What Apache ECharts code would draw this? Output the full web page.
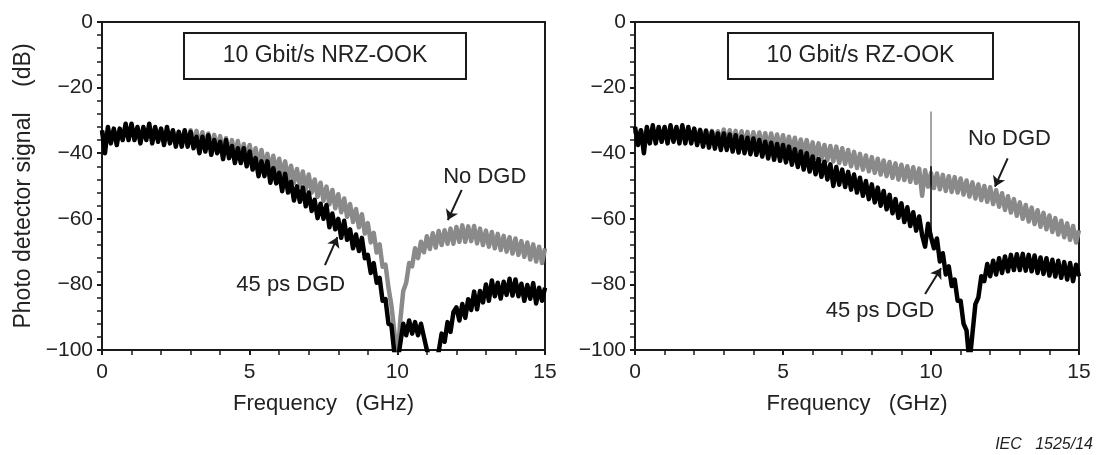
<!DOCTYPE html>
<html><head><meta charset="utf-8">
<script src="https://cdn.jsdelivr.net/npm/echarts@6/dist/echarts.min.js"></script>
<style>html,body{margin:0;padding:0;background:#fff}#c{width:1096px;height:455px}</style>
</head><body><div id="c"></div>
<script>
// ---- data (dB), one sample every freqStep GHz from 0 to 15 GHz ----
const freqStep = 0.1;
const xTicks = [0, 5, 10, 15];
const yTicks = [0, -20, -40, -60, -80, -100];
const panelTitles = ['10 Gbit/s NRZ-OOK', '10 Gbit/s RZ-OOK'];
const seriesNames = ['No DGD', '45 ps DGD'];

const nrzNoDGD = [
-33.5,-36,-33.5,-36,-33,-35.5,-33,-35.5,-33,-35.5,
-32.5,-35.5,-33,-35.5,-32.5,-35,-33,-35.5,-32.5,-35.5,
-32.8,-35.8,-33,-36,-33.2,-36,-33.5,-36.3,-33.4,-36.5,
-33,-37.2,-33.2,-37.8,-33.6,-38,-34,-38.6,-34.4,-38.8,
-34.8,-39.5,-35.4,-40.4,-36,-40.7,-36.3,-41.3,-37.2,-42,
-37.5,-42.6,-38.5,-43.8,-39,-44.5,-40.2,-45,-40.8,-46,
-41.7,-47,-42.5,-48,-43.8,-49,-44.8,-49.8,-45.6,-51,
-46.5,-52,-48,-53.3,-49,-54.5,-50.2,-55.6,-51.2,-56.8,
-52.5,-58,-53.8,-59.4,-55.5,-61,-57,-62.6,-58.6,-64.5,
-61.3,-67.2,-64.3,-70.3,-67.8,-74.6,-74,-81,-86.5,-94.5,
-104,-91,-82,-79.5,-73.5,-74.5,-69,-72,-67,-70.2,
-65.3,-69.2,-64.4,-68.8,-63.7,-68,-63.5,-67.6,-63,-67.6,
-62.5,-67,-62,-67,-62.3,-66.8,-62.2,-67.5,-63,-68,
-63.6,-68.5,-64,-69,-64.6,-69.5,-65.2,-70,-65.6,-70.6,
-66,-71,-66.8,-71.6,-67.2,-72.4,-67.8,-73,-68.5,-73.5,
-69];
const nrz45 = [
-33,-40,-32,-37,-32.5,-37.5,-32.5,-36,-31,-36,
-31,-36,-32,-37,-32,-36,-31,-37,-32,-36.5,
-32.5,-37.5,-32,-37,-33,-38,-33.5,-38,-33,-38,
-33.5,-38.5,-35,-40,-35,-39.5,-34.5,-40.5,-36,-40,
-36.5,-41.8,-36,-41.5,-37.8,-43,-38.5,-43,-38.5,-44,
-39.5,-45,-41.5,-47,-42.5,-47,-42.5,-49,-44.6,-49.2,
-46,-51.6,-46.3,-52,-48.7,-54.4,-50.1,-54.8,-50.5,-56.2,
-52,-57.6,-54.2,-59.8,-55.4,-60,-55.8,-62.6,-58.4,-63.2,
-60,-65.8,-60.6,-66.4,-63.2,-69,-64.8,-69.8,-65.8,-72,
-71,-76.5,-73.5,-79.5,-78,-85,-84.5,-92,-92.5,-101,
-104,-98,-92,-95.5,-91,-95,-91.5,-95.5,-92,-96,
-100,-103,-104,-104,-100.5,-95,-97.5,-91.5,-94.5,-88.5,
-87,-91,-86,-90.2,-84.5,-87.8,-82.2,-87.6,-82,-85.5,
-80,-85,-78.8,-83.6,-79.5,-84.3,-79.2,-83.2,-78.3,-83.4,
-78.5,-83.6,-79.8,-85,-80.2,-84.4,-79.6,-85.8,-81,-85,
-81];
const rzNoDGD = [
-33,-36,-33,-36,-33,-35.5,-33,-35.5,-32.8,-35.5,
-32.5,-35.5,-32.5,-35.5,-32.5,-35.5,-32.5,-35.5,-32.5,-35.5,
-32.7,-35.8,-32.8,-36,-33,-36.2,-33.2,-36.4,-33.3,-36.5,
-32.8,-37.2,-33,-37.3,-33.2,-37.6,-33.3,-37.8,-33.5,-38,
-33.6,-38,-33.7,-38.2,-33.9,-38.4,-34,-38.6,-34.3,-38.8,
-34.5,-39.2,-35,-39.5,-35.3,-40,-35.8,-40.3,-36,-40.8,
-36.7,-41.4,-37,-41.8,-37.5,-42.2,-37.8,-42.5,-38,-43,
-38.5,-43.3,-39,-44,-39.6,-44.5,-40.2,-45,-40.7,-45.5,
-41.2,-46,-41.7,-46.5,-42.2,-47,-42.7,-47.5,-43.1,-48,
-43.5,-48.2,-44,-48.7,-44.3,-49,-44.7,-53,-45.2,-50.2,
-46,-50.6,-46.2,-51,-46.6,-51.5,-47,-51.8,-47.3,-52,
-47.7,-52.6,-48.3,-53.2,-48.9,-53.8,-49.5,-54.3,-50,-54.8,
-50.4,-55.5,-51.3,-56.3,-52.2,-57.3,-53.1,-58.1,-54,-59.1,
-55,-60,-55.8,-60.8,-56.6,-61.6,-57.4,-62.4,-58.2,-63.2,
-59,-64,-59.8,-64.8,-60.6,-65.6,-61.4,-66.4,-62.2,-67.2,
-63.5];
const rz45 = [
-32,-37.5,-33,-40,-32,-37,-31.5,-37,-32,-36.5,
-32,-37,-31.5,-36.5,-32,-37,-31.5,-37,-32,-37,
-32.5,-37.5,-33,-38,-33.2,-38.3,-33.5,-38.6,-34,-39,
-34,-39,-34.3,-39.5,-34.5,-39.8,-35,-40,-35.3,-40.3,
-35.5,-40.5,-36,-41,-36.5,-41.6,-36.8,-42,-37.2,-42.3,
-37.5,-42.8,-38,-43.5,-38.8,-44.2,-39.5,-45,-40,-45.6,
-41,-46.4,-41.8,-47.2,-42.6,-48,-43.4,-50,-44.2,-49.6,
-45,-50.3,-45.7,-51.1,-46.5,-52,-47.5,-53,-48.5,-54,
-49.5,-55,-50.5,-56,-51.5,-57.1,-52.7,-58.3,-54,-59.7,
-55.3,-61,-56.5,-62.2,-58,-63.6,-59.3,-65,-68.5,-61.5,
-65.5,-69,-66,-73,-70.5,-77,-74.5,-80.5,-78.5,-85,
-85,-92,-94,-104,-95,-86,-84,-77.5,-79,-73.8,
-77.5,-72.8,-77,-72,-76.5,-71.5,-76,-71,-75.6,-70.8,
-75.6,-70.7,-75.8,-71,-76,-71.2,-76.5,-71.8,-76.8,-72,
-77.3,-72.5,-77.6,-72.8,-78,-73.2,-78.5,-73.5,-79,-74,
-77.5];
// narrow spectral lines at the clock frequency in the RZ spectra: [freq, top dB, bottom dB]
const rzToneNoDGD = [10, -27.3, -47];
const rzTone45 = [10, -44, -64];

// annotation placement (data units): label position and arrow from -> to
const notes = [
  {panel:0, text:'No DGD',    at:[12.96,-47.2], from:[12.18,-51.2], to:[11.71,-60.4]},
  {panel:0, text:'45 ps DGD', at:[6.39,-80.2],  from:[7.55,-74.1],  to:[7.97,-65.6]},
  {panel:1, text:'No DGD',    at:[12.65,-35.5], from:[12.59,-41.6], to:[12.16,-50.2]},
  {panel:1, text:'45 ps DGD', at:[8.28,-88.1],  from:[9.8,-82.9],   to:[10.34,-75.1]}
];

const FONT = '"Liberation Sans", Arial, sans-serif';
const INK = '#1a1a1a';
const GRAY = '#8a8a8a';
const pairs = arr => arr.map((v, i) => [Math.round(i * freqStep * 100) / 100, v]);
const minus = v => (v < 0 ? '\u2212' + Math.abs(v) : String(v));

function xAxisFor(idx) {
  return {
    gridIndex: idx, type: 'value',
    min: xTicks[0], max: xTicks[xTicks.length - 1], interval: xTicks[1] - xTicks[0],
    axisLine: {show: true, onZero: false, lineStyle: {color: INK, width: 2}},
    axisTick: {show: true, length: 5, lineStyle: {color: INK, width: 2}},
    minorTick: {show: true, splitNumber: 5, length: 5, lineStyle: {color: INK, width: 1.5}},
    splitLine: {show: false},
    axisLabel: {fontSize: 21, color: '#222', margin: 12, fontFamily: FONT},
    name: 'Frequency   (GHz)', nameLocation: 'middle', nameGap: 43,
    nameTextStyle: {fontSize: 22, color: '#222', fontFamily: FONT}
  };
}
function yAxisFor(idx) {
  const a = {
    gridIndex: idx, type: 'value',
    min: yTicks[yTicks.length - 1], max: yTicks[0], interval: yTicks[0] - yTicks[1],
    axisLine: {show: true, onZero: false, lineStyle: {color: INK, width: 2}},
    axisTick: {show: true, length: 5, lineStyle: {color: INK, width: 2}},
    minorTick: {show: true, splitNumber: 5, length: 5, lineStyle: {color: INK, width: 1.5}},
    splitLine: {show: false},
    axisLabel: {fontSize: 21, color: '#222', margin: 9, fontFamily: FONT, formatter: minus}
  };
  if (idx === 0) {
    a.name = 'Photo detector signal    (dB)';
    a.nameLocation = 'middle';
    a.nameGap = 67;
    a.nameTextStyle = {fontSize: 23, color: '#222', fontFamily: FONT};
  }
  return a;
}

function toneSeries(idx, tone, color) {
  return {type: 'line', xAxisIndex: idx, yAxisIndex: idx, silent: true,
    data: [[tone[0], tone[1]], [tone[0], tone[2]]], showSymbol: false, symbol: 'none',
    lineStyle: {color: color, width: 1.5}, z: 4};
}

function panelSeries(idx, gray, black) {
  const my = notes.filter(n => n.panel === idx);
  return [
    {type: 'line', name: seriesNames[0], xAxisIndex: idx, yAxisIndex: idx,
     data: pairs(gray), showSymbol: false, symbol: 'none',
     lineStyle: {color: GRAY, width: 4.5, join: 'round'}, z: 2, silent: true},
    {type: 'line', name: seriesNames[1], xAxisIndex: idx, yAxisIndex: idx,
     data: pairs(black), showSymbol: false, symbol: 'none',
     lineStyle: {color: '#000', width: 4.5, join: 'round'}, z: 3, silent: true,
     markLine: {
       silent: true, animation: false, symbol: ['none', 'arrow'], symbolSize: 10,
       lineStyle: {color: INK, width: 2, type: 'solid'}, label: {show: false},
       data: my.map(n => [{coord: n.from}, {coord: n.to}])
     },
     markPoint: {
       silent: true, animation: false, symbol: 'rect', symbolSize: 1,
       itemStyle: {color: 'rgba(0,0,0,0)'},
       label: {show: true, position: 'inside', formatter: '{b}', fontSize: 22, color: '#222', fontFamily: FONT},
       data: my.map(n => ({name: n.text, coord: n.at}))
     }}
  ];
}

function titleBox(left, top, w, h, text) {
  return {
    type: 'group', left: left, top: top, z: 20,
    children: [
      {type: 'rect', shape: {x: 0, y: 0, width: w, height: h},
       style: {fill: '#fff', stroke: INK, lineWidth: 2}},
      {type: 'text', x: w / 2, y: h / 2,
       style: {text: text, fontSize: 23, fontFamily: FONT, fill: '#222', align: 'center', verticalAlign: 'middle'}}
    ]
  };
}

const chart = echarts.init(document.getElementById('c'), null, {renderer: 'canvas'});
chart.setOption({
  animation: false,
  backgroundColor: '#fff',
  textStyle: {fontFamily: FONT},
  grid: [
    {left: 102, top: 22, width: 443, height: 328, show: true, borderColor: INK, borderWidth: 2, backgroundColor: 'transparent'},
    {left: 635, top: 22, width: 444, height: 328, show: true, borderColor: INK, borderWidth: 2, backgroundColor: 'transparent'}
  ],
  xAxis: [xAxisFor(0), xAxisFor(1)],
  yAxis: [yAxisFor(0), yAxisFor(1)],
  series: [].concat(
    panelSeries(0, nrzNoDGD, nrz45),
    panelSeries(1, rzNoDGD, rz45),
    [toneSeries(1, rzToneNoDGD, GRAY), toneSeries(1, rzTone45, '#000')]
  ),
  graphic: [
    titleBox(183, 32, 282, 46, panelTitles[0]),
    titleBox(727, 32, 265, 46, panelTitles[1]),
    {type: 'text', right: 3, top: 437,
     style: {text: 'IEC   1525/14', fontSize: 16, fontStyle: 'italic', fontFamily: FONT, fill: '#222'}}
  ]
});
</script>
</body></html>
